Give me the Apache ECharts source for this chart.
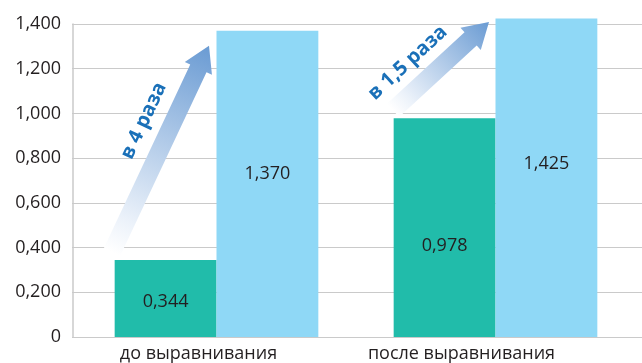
<!DOCTYPE html>
<html>
<head>
<meta charset="utf-8">
<script src="https://cdn.jsdelivr.net/npm/echarts@6/dist/echarts.min.js"></script>
<style>
  html, body { margin: 0; padding: 0; background: #fff; }
  #chart { width: 642px; height: 363px; }
</style>
</head>
<body>
<div id="chart"></div>
<script>
// Коэффициенты до и после выравнивания
const categories = ['до выравнивания', 'после выравнивания'];
const lowValues = [0.344, 0.978];
const highValues = [1.370, 1.425];
const yTickLabels = ['0', '0,200', '0,400', '0,600', '0,800', '1,000', '1,200', '1,400'];
const growthTexts = ['в 4 раза', 'в 1,5 раза'];

const FONT = 'Open Sans';
const TEXT_COLOR = '#231f20';
const GRID_COLOR = '#cacaca';

// vertical nudges of the value labels inside the bars
const lowLabelShift = [3, 18];
const highLabelShift = [-10, -14];
// horizontal nudges of the category labels
const catLabelPad = [36, 68];

const fmt = v => v.toFixed(3).replace('.', ',');

const chart = echarts.init(document.getElementById('chart'), null, { renderer: 'canvas' });

const gridTop = 24, gridBottom = 26;

chart.setOption({
  animation: false,
  grid: [
    { left: 77, right: 7, top: gridTop, bottom: gridBottom },
    { left: 72, right: 0, top: gridTop, bottom: gridBottom }
  ],
  xAxis: [
    {
      type: 'category', gridIndex: 0,
      data: categories.map((c, i) => ({
        value: c,
        textStyle: { padding: [0, catLabelPad[i], 0, 0] }
      })),
      axisLine: { show: false }, axisTick: { show: false },
      axisLabel: { fontFamily: FONT, fontSize: 18, color: TEXT_COLOR, margin: 8 }
    },
    {
      type: 'category', gridIndex: 1, data: categories, show: false
    }
  ],
  yAxis: [
    {
      type: 'value', gridIndex: 0, min: 0, max: 1.4, interval: 0.2, offset: 4,
      axisLine: { show: true, lineStyle: { color: GRID_COLOR, width: 1.5 } },
      axisTick: { show: false },
      splitLine: { show: false },
      axisLabel: {
        fontFamily: FONT, fontSize: 18, color: TEXT_COLOR, margin: 12,
        formatter: (v) => yTickLabels[Math.round(v / 0.2)]
      }
    },
    {
      type: 'value', gridIndex: 1, min: 0, max: 1.4, interval: 0.2,
      axisLine: { show: false }, axisTick: { show: false }, axisLabel: { show: false },
      splitLine: { show: true, lineStyle: { color: GRID_COLOR, width: 1 } }
    }
  ],
  series: [
    {
      type: 'bar', xAxisIndex: 0, yAxisIndex: 0, clip: false,
      barGap: '0%', barCategoryGap: '27%',
      itemStyle: { color: '#21bcaa' },
      data: lowValues.map((v, i) => ({ value: v, label: { offset: [0, lowLabelShift[i]] } })),
      label: {
        show: true, position: 'inside', fontFamily: FONT, fontSize: 18, color: TEXT_COLOR,
        formatter: p => fmt(p.value)
      },
      z: 3
    },
    {
      type: 'bar', xAxisIndex: 0, yAxisIndex: 0, clip: false,
      barGap: '0%', barCategoryGap: '27%',
      itemStyle: { color: '#8fd8f6' },
      data: highValues.map((v, i) => ({ value: v, label: { offset: [0, highLabelShift[i]] } })),
      label: {
        show: true, position: 'inside', fontFamily: FONT, fontSize: 18, color: TEXT_COLOR,
        formatter: p => fmt(p.value)
      },
      z: 3
    }
  ]
});

// Growth arrows: from the top of the lower bar towards the top of the taller one
const arrowDefs = [
  { tail: [-104.5, -8], tip: [-7.5, 15], textAlong: 0.58, textSide: 27 },
  { tail: [-102.5, -8], tip: [-6.5, 3.5], textAlong: 0.33, textSide: 25 }
];

const graphics = [];
categories.forEach((c, i) => {
  const pLow = chart.convertToPixel({ xAxisIndex: 0, yAxisIndex: 0 }, [i, lowValues[i]]);
  const pHigh = chart.convertToPixel({ xAxisIndex: 0, yAxisIndex: 0 }, [i, highValues[i]]);
  const d = arrowDefs[i];
  const t = [pLow[0] + d.tail[0], pLow[1] + d.tail[1]];
  const h = [pHigh[0] + d.tip[0], pHigh[1] + d.tip[1]];
  const dx = h[0] - t[0], dy = h[1] - t[1];
  const len = Math.hypot(dx, dy);
  const u = [dx / len, dy / len];
  const n = [u[1], -u[0]]; // left-hand normal (points up-left)
  const shaft = 9, headHalf = 15, headLen = 25;
  const b = [h[0] - u[0] * headLen, h[1] - u[1] * headLen];
  const pt = (p, k) => [p[0] + n[0] * k, p[1] + n[1] * k];
  const points = [
    pt(t, shaft), pt(b, shaft), pt(b, headHalf), h, pt(b, -headHalf), pt(b, -shaft), pt(t, -shaft)
  ];
  graphics.push({
    type: 'polygon', z: 10,
    shape: { points },
    style: {
      fill: new echarts.graphic.LinearGradient(t[0], t[1], h[0], h[1], [
        { offset: 0, color: 'rgba(255,255,255,1)' },
        { offset: 0.15, color: 'rgba(236,242,250,1)' },
        { offset: 1, color: '#6a9bd3' }
      ], true)
    }
  });
  const c0 = [t[0] + dx * d.textAlong + n[0] * d.textSide, t[1] + dy * d.textAlong + n[1] * d.textSide];
  graphics.push({
    type: 'text', z: 11,
    x: c0[0], y: c0[1],
    rotation: Math.atan2(-dy, dx),
    style: {
      text: growthTexts[i], x: 0, y: 0,
      align: 'center', verticalAlign: 'middle',
      font: 'bold 20px "Open Sans"', fill: '#1a70b8'
    }
  });
});
chart.setOption({ graphic: graphics });
</script>
</body>
</html>
